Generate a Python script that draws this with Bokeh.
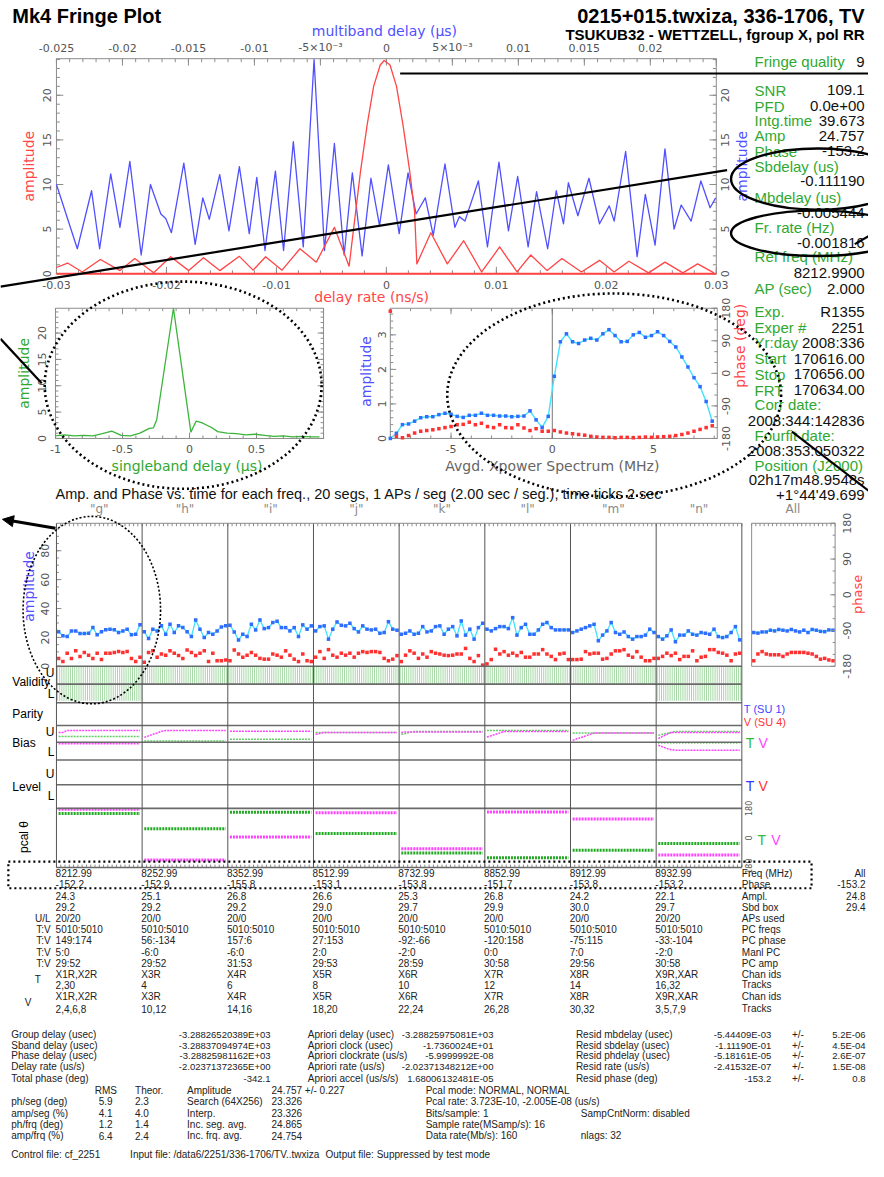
import numpy as np
from bokeh.plotting import figure
from bokeh.models import Range1d, Arrow, NormalHead
from bokeh.core.properties import value
from bokeh.embed import file_html
from bokeh.resources import INLINE

# ---------------------------------------------------------------- data
# multiband delay function (blue, top axis, microseconds)
mbd_delay = [-0.0250, -0.02342, -0.02234, -0.02173, -0.02089, -0.02019, -0.01944, -0.01858, -0.01788, -0.01709,
             -0.01672, -0.01629, -0.01535, -0.01449, -0.01391, -0.01342, -0.01263, -0.01193, -0.01114, -0.01039,
             -0.00982, -0.00920, -0.00841, -0.00779, -0.00705, -0.00630, -0.00548, -0.00469, -0.00394, -0.00320,
             -0.00258, -0.00184, -0.00117, -0.00052, 0.00015, 0.00097, 0.00164, 0.00225, 0.00295, 0.00355,
             0.00444, 0.00519, 0.00553, 0.00595, 0.00697, 0.00766, 0.00853, 0.00925, 0.00995, 0.01074,
             0.01138, 0.01222, 0.01287, 0.01342, 0.01379, 0.01451, 0.01535, 0.01615, 0.01689, 0.01726,
             0.01813, 0.01900, 0.01962, 0.02036, 0.02111, 0.02180, 0.02234, 0.02309, 0.02383, 0.02453,
             0.02495]
mbd_amp = [10.0, 2.8, 9.3, 2.8, 11.2, 5.2, 12.6, 2.1, 10.0, 6.7,
           6.2, 4.6, 12.4, 3.3, 8.5, 6.1, 11.1, 4.8, 12.0, 4.5,
           10.8, 2.6, 11.5, 2.6, 14.8, 3.0, 24.0, 2.6, 14.6, 2.1,
           11.3, 2.0, 10.7, 5.4, 12.2, 4.5, 11.3, 6.7, 8.5, 4.3,
           12.3, 5.2, 6.4, 5.9, 10.4, 3.0, 12.5, 4.8, 10.9, 3.0,
           9.2, 2.8, 9.3, 5.6, 10.2, 6.5, 10.7, 5.6, 7.6, 5.9,
           13.7, 1.9, 8.9, 3.2, 14.0, 5.0, 7.7, 5.9, 10.4, 7.4,
           8.5]
# delay-rate function (red, bottom axis, ns/s)
rate_delay = [-0.0300, -0.02899, -0.02765, -0.02601, -0.02422, -0.02288, -0.02116, -0.01962, -0.01797, -0.01663,
              -0.01515, -0.01337, -0.01212, -0.01098, -0.00949, -0.00786, -0.00637, -0.00473, -0.00339, -0.00279,
              -0.00235, -0.00176, -0.00116, -0.00056, -0.00020, 0.00033, 0.00092, 0.00152, 0.00212, 0.00256,
              0.00277, 0.00404, 0.00554, 0.00703, 0.00866, 0.01030, 0.01188, 0.01313, 0.01462, 0.01596,
              0.01774, 0.01938, 0.02071, 0.02205, 0.02384, 0.02533, 0.02696, 0.02830, 0.02979]
rate_amp = [0.7, 1.2, 0.2, 1.6, 0.35, 1.7, 0.1, 1.9, 0.35, 1.8,
            0.35, 1.95, 0.4, 1.9, 0.4, 2.8, 1.3, 5.2, 0.85, 7.0,
            11.5, 16.6, 21.0, 23.4, 23.9, 23.4, 21.0, 16.6, 11.5, 7.0,
            1.1, 4.6, 1.1, 3.7, 0.2, 3.0, 0.2, 2.1, 0.35, 1.7,
            0.2, 1.5, 0.2, 1.4, 0.1, 1.3, 0.1, 1.1, 0.1]
# singleband delay function
sbd_delay = [-1.0, -0.93, -0.86, -0.79, -0.72, -0.65, -0.58, -0.51, -0.44, -0.37, -0.30, -0.27, -0.245,
             -0.12, 0.01, 0.05, 0.09, 0.13, 0.17, 0.21, 0.28, 0.35, 0.42, 0.49, 0.56, 0.63, 0.70, 0.77,
             0.84, 0.91, 0.97]
sbd_amp = [0.5, 0.7, 0.5, 0.6, 0.5, 0.9, 1.4, 0.6, 0.5, 1.0, 1.9, 2.0, 3.5,
           24.7, 1.2, 3.3, 3.0, 2.5, 2.0, 1.3, 1.0, 0.9, 0.7, 0.8, 0.6, 0.4, 0.5, 0.3,
           0.4, 0.3, 0.3]
# averaged cross-power spectrum (54 spectral points)
xp_freq = [round(float(v), 2) for v in np.linspace(-8.0, 7.9, 54)]
xp_amp = [0.0, 0.15, 0.40, 0.42, 0.50, 0.60, 0.63, 0.63, 0.69, 0.73, 0.70, 0.64, 0.61, 0.67,
          0.67, 0.73, 0.67, 0.67, 0.65, 0.65, 0.63, 0.64, 0.65, 0.80, 0.54, 0.32, 0.64,
          1.80, 2.80, 3.03, 2.80, 2.75, 2.85, 2.90, 2.85, 3.03, 3.15, 2.98, 2.80, 2.81, 3.00,
          3.07, 2.93, 2.98, 3.09, 2.98, 2.81, 2.65, 2.36, 2.07, 1.76, 1.50, 1.07, 0.50]
xp_phase = [172, -174, -178, -172, -165, -160, -158, -156, -153, -150, -147, -142, -141, -135,
            -142, -138, -147, -150, -142, -150, -151, -142, -151, -158, -153, -160, -160,
            -158, -162, -165, -167, -169, -171, -174, -176, -177, -177, -178, -177, -177, -178,
            -177, -176, -177, -176, -175, -174, -172, -169, -165, -160, -155, -150, -145]

chan_names = ["g", "h", "i", "j", "k", "l", "m", "n"]
seg_amp = [
    [23.9, 21.1, 20.6, 24.5, 24.5, 22.7, 22.7, 22.9, 26.8, 21.8, 23.9, 25.3, 25.7, 25.3, 23.4, 24.5, 25.7, 21.8, 22.2, 28.7],
    [23.9, 19.3, 25.7, 24.5, 28.0, 22.2, 29.1, 23.4, 28.0, 26.8, 23.9, 20.6, 32.1, 25.7, 19.9, 23.4, 22.2, 24.5, 27.3, 28.0],
    [28.4, 23.8, 18.3, 22.2, 20.6, 29.1, 25.2, 32.1, 26.1, 26.8, 30.3, 31.2, 26.8, 26.8, 24.5, 26.8, 20.6, 28.7, 25.7, 28.0],
    [24.5, 27.5, 28.0, 18.8, 25.7, 30.7, 28.4, 28.0, 29.8, 26.1, 23.8, 28.0, 25.7, 25.2, 25.7, 22.9, 23.4, 30.9, 25.7, 25.0],
    [22.2, 22.9, 24.5, 22.2, 22.9, 27.5, 23.8, 24.5, 27.5, 28.0, 22.2, 25.7, 27.5, 21.1, 31.4, 21.6, 25.7, 18.8, 26.8, 29.8],
    [25.7, 24.5, 26.1, 27.5, 27.5, 26.1, 33.7, 21.6, 26.8, 29.1, 22.2, 22.2, 25.2, 29.1, 30.3, 26.8, 25.2, 25.2, 25.2, 25.2],
    [23.4, 24.5, 25.7, 26.8, 28.0, 29.1, 17.7, 21.6, 24.5, 30.3, 23.4, 22.2, 23.8, 20.6, 18.8, 20.6, 20.6, 21.6, 25.7, 23.4],
    [20.6, 18.8, 21.1, 25.2, 17.0, 21.6, 21.6, 24.5, 22.2, 21.6, 23.4, 22.9, 22.2, 25.7, 20.6, 19.9, 20.6, 23.4, 27.5, 18.3],
]
seg_phase = [
    [-160, -168, -147, -160, -141, -155, -145, -152, -160, -147, -163, -147, -147, -145, -143, -145, -143, -160, -168, -157],
    [-170, -145, -141, -157, -149, -152, -141, -147, -153, -160, -139, -145, -153, -147, -141, -168, -147, -166, -166, -164],
    [-166, -139, -149, -157, -152, -145, -152, -160, -162, -162, -149, -152, -157, -141, -152, -162, -168, -149, -166, -168],
    [-157, -143, -160, -138, -152, -157, -147, -152, -147, -157, -147, -143, -145, -143, -143, -145, -160, -166, -162, -153],
    [-168, -152, -141, -147, -160, -149, -157, -143, -147, -149, -152, -153, -152, -149, -149, -135, -160, -168, -153, -177],
    [-174, -163, -137, -149, -143, -152, -147, -153, -145, -157, -157, -149, -149, -138, -149, -155, -163, -149, -147, -163],
    [-163, -163, -162, -143, -149, -147, -147, -162, -160, -149, -141, -141, -138, -152, -157, -143, -157, -166, -166, -160],
    [-160, -155, -147, -153, -147, -163, -155, -155, -141, -166, -157, -155, -138, -138, -145, -147, -152, -166, -149, -147],
]
all_amp = [23.4, 23.0, 23.8, 23.8, 25.0, 24.5, 25.5, 25.0, 24.5, 25.5, 24.5, 23.8, 25.0, 23.4, 25.5, 25.0, 24.2, 24.0, 25.2, 25.0]
all_phase = [-166, -149, -143, -149, -151, -151, -151, -155, -149, -145, -145, -145, -145, -147, -149, -155, -162, -160, -164, -166]

aps_U = [20, 20, 20, 20, 20, 20, 20, 20]
aps_L = [20, 0, 0, 0, 0, 0, 0, 20]
# sampler bias tracks (0..1 = lower sideband band, 1..2 = upper sideband band)
bias_T_U = [[1.37] * 20, [1.10] * 20, [1.20] * 20, [1.60] * 20,
            [1.49, 1.54, 1.60] + [1.66] * 17, [1.71] * 20, [1.56] * 20,
            [1.43, 1.49, 1.54, 1.60] + [1.66] * 16]
bias_V_U = [[1.60, 1.60] + [1.71] * 18, [1.31, 1.40, 1.49, 1.57, 1.66] + [1.71] * 15, [1.67] * 20,
            [1.49, 1.54] + [1.60] * 18, [1.60] + [1.63] * 19, [1.33, 1.41, 1.49, 1.57] + [1.66] * 16,
            [1.14, 1.23, 1.31, 1.39, 1.48] + [1.56] * 15, [1.24, 1.37, 1.49] + [1.60] * 17]
bias_T_L = {7: [0.97] * 20}
bias_V_L = {0: [0.95] * 20, 7: [0.86, 0.76, 0.67, 0.60] + [0.57] * 16}

pc_T = [149, 56, 157, 27, -92, -120, -75, -33]
pc_V = [174, -134, 6, 153, -66, 158, 115, -104]

freq_mhz = ["8212.99", "8252.99", "8352.99", "8512.99", "8732.99", "8852.99", "8912.99", "8932.99"]
ch_phase = ["-152.2", "-152.9", "-155.8", "-153.1", "-153.8", "-151.7", "-153.8", "-153.2"]
ch_ampl = ["24.3", "25.1", "26.8", "26.6", "25.3", "26.8", "24.2", "22.1"]
ch_sbdbox = ["29.2", "29.2", "29.2", "29.0", "29.7", "29.9", "30.0", "29.7"]
pc_freqs = ["5010:5010"] * 8
manl_pc = ["5:0", "-6:0", "-6:0", "2:0", "-2:0", "0:0", "7:0", "-2:0"]
pc_amp = ["29:52", "29:52", "31:53", "29:53", "28:59", "30:58", "29:56", "30:58"]
chan_ids = ["X1R,X2R", "X3R", "X4R", "X5R", "X6R", "X7R", "X8R", "X9R,XAR"]
tracks_T = ["2,30", "4", "6", "8", "10", "12", "14", "16,32"]
tracks_V = ["2,4,6,8", "10,12", "14,16", "18,20", "22,24", "26,28", "30,32", "3,5,7,9"]
all_col = ["All", "-153.2", "24.8", "29.4"]

rp_labels = ["Fringe quality", "SNR", "PFD", "Intg.time", "Amp", "Phase", "Sbdelay (us)", "", "Mbdelay (us)", "",
             "Fr. rate (Hz)", "", "Ref freq (MHz)", "", "AP (sec)", "Exp.", "Exper #", "Yr:day", "Start", "Stop",
             "FRT", "Corr date:", "", "Fourfit date:", "", "Position (J2000)", "", ""]
rp_values = ["9", "109.1", "0.0e+00", "39.673", "24.757", "-153.2", "", "-0.111190", "", "-0.005444",
             "", "-0.001816", "", "8212.9900", "2.000", "R1355", "2251", "2008:336", "170616.00", "170656.00",
             "170634.00", "", "2008:344:142836", "", "2008:353:050322", "", "02h17m48.9548s", "+1\u00b044'49.699"]

sum_lab1 = ["Group delay (usec)", "Sband delay (usec)", "Phase delay (usec)", "Delay rate (us/s)", "Total phase (deg)"]
sum_val1 = ["-3.28826520389E+03", "-3.28837094974E+03", "-3.28825981162E+03", "-2.02371372365E+00", "-342.1"]
sum_lab2 = ["Apriori delay (usec)", "Apriori clock (usec)", "Apriori clockrate (us/s)", "Apriori rate (us/s)", "Apriori accel (us/s/s)"]
sum_val2 = ["-3.28825975081E+03", "-1.7360024E+01", "-5.9999992E-08", "-2.02371348212E+00", "1.68006132481E-05"]
sum_lab3 = ["Resid mbdelay (usec)", "Resid sbdelay (usec)", "Resid phdelay (usec)", "Resid rate (us/s)", "Resid phase (deg)"]
sum_val3 = ["-5.44409E-03", "-1.11190E-01", "-5.18161E-05", "-2.41532E-07", "-153.2"]
sum_err3 = ["5.2E-06", "4.5E-04", "2.6E-07", "1.5E-08", "0.8"]

rms_lab = ["ph/seg (deg)", "amp/seg (%)", "ph/frq (deg)", "amp/frq (%)"]
rms_val = ["5.9", "4.1", "1.2", "6.4"]
theor_val = ["2.3", "4.0", "1.4", "2.4"]
amp_lab = ["Search (64X256)", "Interp.", "Inc. seg. avg.", "Inc. frq. avg."]
amp_val = ["23.326", "23.326", "24.865", "24.754"]
misc_lab = ["Pcal rate: 3.723E-10,  -2.005E-08  (us/s)", "Bits/sample: 1", "Sample rate(MSamp/s): 16", "Data rate(Mb/s): 160"]
misc_lab2 = ["", "SampCntNorm: disabled", "", "nlags: 32"]

# ---------------------------------------------------------------- page
RW, RH = 884, 1177
SANS = "Liberation Sans"
DJ = "DejaVu Sans"
BLUE = "#5050ff"
RED = "#ff4545"
GREEN = "#30a830"
CYAN = "#3fe3ff"
PBLUE = "#2f6dff"
PRED = "#ff3030"
MAG = "#ff44ff"
FRAME = "#8c8c8c"
TICK = "#8c8c8c"
TTXT = "#555555"
RULE = "#6a6a6a"

p = figure(width=868, height=1161, x_range=Range1d(0, RW), y_range=Range1d(RH, 0),
           x_axis_type=None, y_axis_type=None, toolbar_location=None, output_backend="svg",
           min_border=0, outline_line_color=None)
p.background_fill_color = "white"
p.border_fill_color = "white"

XR, YR = {}, {}


def xreg(name, a, b, L, R):
    s = (b - a) / (R - L)
    XR[name] = Range1d(a - L * s, a + (RW - L) * s)


def yreg(name, a, b, T, B):
    s = (b - a) / (B - T)
    YR[name] = Range1d(a - (RH - B) * s, b + T * s)


xreg("mbd", -0.025, 0.025, 57, 729)
xreg("rate", -0.03, 0.03, 57, 729)
yreg("top", 0, 24.1, 59, 277)
xreg("sbd", -1, 1, 56, 329)
yreg("sbd", 0, 24.7, 312, 444)
xreg("xp", -8, 8.15, 397, 730)
yreg("xpa", 0, 3.77, 312, 444)
yreg("xpp", -180, 180, 312, 444)
xreg("ch", 0, 160, 57, 755)
xreg("all", 0, 20, 765, 850)
yreg("camp", 0, 99, 530, 675)
yreg("cph", -180, 180, 530, 675)
yreg("bias", 0, 2, 735, 770)
yreg("pcal", -180, 180, 819, 879)
p.extra_x_ranges = XR
p.extra_y_ranges = YR


def L(v):
    return [float(a) for a in v]


def put(x, y, s, size=12, color="black", align="left", base="middle", font=SANS, bold=False,
        angle=0.0, xn="default", yn="default"):
    xs = list(x) if isinstance(x, (list, tuple)) else None
    ys = list(y) if isinstance(y, (list, tuple)) else None
    ss = list(s) if isinstance(s, (list, tuple)) else None
    lens = [len(v) for v in (xs, ys, ss) if v is not None]
    n = max(lens) if lens else 1
    xs = xs if xs is not None else [x] * n
    ys = ys if ys is not None else [y] * n
    ss = ss if ss is not None else [s] * n
    p.text(x=xs, y=ys, text=ss, x_range_name=xn, y_range_name=yn,
           text_font=value(font), text_font_size=value(f"{size}px"), text_color=color,
           text_align=align, text_baseline=base, angle=angle,
           text_font_style="bold" if bold else "normal")


def hticks(xn, vals, ypix, ln, color=TICK, w=1):
    v = L(vals)
    p.segment(x0=v, y0=[ypix] * len(v), x1=v, y1=[ypix + ln] * len(v), x_range_name=xn,
              line_color=color, line_width=w)


def vticks(yn, vals, xpix, ln, color=TICK, w=1):
    v = L(vals)
    p.segment(x0=[xpix] * len(v), y0=v, x1=[xpix + ln] * len(v), y1=v, y_range_name=yn,
              line_color=color, line_width=w)


ROT = np.pi / 2

# ---------------------------------------------------------------- header
put(12, 16, "Mk4 Fringe Plot", size=20, bold=True)
put(880, 16, "0215+015.twxiza, 336-1706, TV", size=20, bold=True, align="right")
put(880, 34, "TSUKUB32 - WETTZELL, fgroup X, pol RR", size=15, bold=True, align="right")

# ---------------------------------------------------------------- top plot (mbd / delay rate)
p.quad(left=[-0.03], right=[0.03], bottom=[0], top=[24.1], x_range_name="rate", y_range_name="top",
       fill_color=None, line_color=FRAME, line_width=1)
hticks("mbd", np.arange(-0.025, 0.02501, 0.005), 59, 7)
hticks("mbd", np.arange(-0.025, 0.02501, 0.001), 59, 3.5)
hticks("rate", np.arange(-0.03, 0.03001, 0.01), 277, -7)
hticks("rate", np.arange(-0.03, 0.03001, 0.002), 277, -3.5)
vticks("top", [0, 5, 10, 15, 20], 57, 7)
vticks("top", range(0, 25), 57, 3.5)
vticks("top", [0, 5, 10, 15, 20], 729, -7)
vticks("top", range(0, 25), 729, -3.5)
p.line(mbd_delay, mbd_amp, x_range_name="mbd", y_range_name="top", line_color=BLUE, line_width=1.3,
       line_join="round")
p.line(rate_delay, rate_amp, x_range_name="rate", y_range_name="top", line_color=RED, line_width=1.3,
       line_join="round")
p.segment(x0=[-0.03], y0=[0], x1=[0.03], y1=[0], x_range_name="rate", y_range_name="top",
          line_color=RED, line_width=2)

mbd_ticks = [-0.025, -0.02, -0.015, -0.01, -0.005, 0, 0.005, 0.01, 0.015, 0.02]
mbd_tlab = ["-0.025", "-0.02", "-0.015", "-0.01", "-5\u00d710\u207b\u00b3", "0", "5\u00d710\u207b\u00b3", "0.01", "0.015", "0.02"]
put(mbd_ticks, 48, mbd_tlab, size=11, font=DJ, color=TTXT, align="center", xn="mbd")
rate_ticks = [-0.03, -0.02, -0.01, 0, 0.01, 0.02, 0.03]
put(rate_ticks, 288, ["-0.03", "-0.02", "-0.01", "0", "0.01", "0.02", "0.03"], size=11, font=DJ,
    color=TTXT, align="center", xn="rate")
amp_t = [0, 5, 10, 15, 20]
put(47, amp_t, [str(v) for v in amp_t], size=11, font=DJ, color=TTXT, align="center", angle=ROT, yn="top")
put(738, amp_t, [str(v) for v in amp_t], size=11, font=DJ, color=TTXT, align="center", angle=ROT, yn="top")
put(391, 31, "multiband delay (\u00b5s)", size=14, font=DJ, color=BLUE, align="center")
put(378, 301, "delay rate (ns/s)", size=14, font=DJ, color=RED, align="center")
put(29, 168, "amplitude", size=14, font=DJ, color=RED, align="center", angle=ROT)
put(755, 168, "amplitude", size=14, font=DJ, color=BLUE, align="center", angle=ROT)

# ---------------------------------------------------------------- singleband delay panel
p.quad(left=[-1], right=[1], bottom=[0], top=[24.7], x_range_name="sbd", y_range_name="sbd",
       fill_color=None, line_color=FRAME)
hticks("sbd", [-1, -0.5, 0, 0.5, 1], 444, -6)
hticks("sbd", np.arange(-1, 1.001, 0.1), 444, -3)
hticks("sbd", [-1, -0.5, 0, 0.5, 1], 312, 6)
hticks("sbd", np.arange(-1, 1.001, 0.1), 312, 3)
vticks("sbd", [0, 5, 10, 15, 20], 56, 6)
vticks("sbd", range(0, 25), 56, 3)
vticks("sbd", [0, 5, 10, 15, 20], 329, -6)
vticks("sbd", range(0, 25), 329, -3)
p.line(sbd_delay, sbd_amp, x_range_name="sbd", y_range_name="sbd", line_color="#3cb43c", line_width=1.3)
put([-1, -0.5, 0, 0.5], 455, ["-1", "-0.5", "0", "0.5"], size=11, font=DJ, color=TTXT, align="center", xn="sbd")
put(42, amp_t, [str(v) for v in amp_t], size=11, font=DJ, color=TTXT, align="center", angle=ROT, yn="sbd")
put(24, 378, "amplitude", size=14, font=DJ, color=GREEN, align="center", angle=ROT)
put(190, 472, "singleband delay (\u00b5s)", size=14, font=DJ, color=GREEN, align="center")

# ---------------------------------------------------------------- cross power spectrum panel
p.quad(left=[-8], right=[8.15], bottom=[0], top=[3.77], x_range_name="xp", y_range_name="xpa",
       fill_color=None, line_color=FRAME)
hticks("xp", [-5, 0, 5], 444, -6)
hticks("xp", range(-8, 9), 444, -3)
hticks("xp", [-5, 0, 5], 312, 6)
hticks("xp", range(-8, 9), 312, 3)
vticks("xpa", [0, 1, 2, 3], 397, 6)
vticks("xpa", np.arange(0, 3.7, 0.2), 397, 3)
vticks("xpp", [-180, -90, 0, 90, 180], 730, -6)
vticks("xpp", range(-180, 181, 30), 730, -3)
p.segment(x0=[0], y0=[0], x1=[0], y1=[3.77], x_range_name="xp", y_range_name="xpa", line_color="#777777")
p.line(xp_freq, xp_amp, x_range_name="xp", y_range_name="xpa", line_color=CYAN, line_width=1.4)
p.scatter(xp_freq, xp_amp, x_range_name="xp", y_range_name="xpa", marker="square", size=3.5,
          fill_color=PBLUE, line_color=None)
p.scatter(xp_freq, xp_phase, x_range_name="xp", y_range_name="xpp", marker="square", size=3.5,
          fill_color=PRED, line_color=None)
put([-5, 0, 5], 455, ["-5", "0", "5"], size=11, font=DJ, color=TTXT, align="center", xn="xp")
put(389, [0, 1, 2, 3], ["0", "1", "2", "3"], size=11, font=DJ, color=TTXT, align="center", angle=ROT, yn="xpa")
ph_t = [-180, -90, 0, 90, 180]
put(739, ph_t, [str(v) for v in ph_t], size=11, font=DJ, color=TTXT, align="center", angle=ROT, yn="xpp")
put(372, 376, "amplitude", size=14, font=DJ, color=BLUE, align="center", angle=ROT)
put(753, 350, "phase (deg)", size=14, font=DJ, color=RED, align="center", angle=ROT)
put(562, 472, "Avgd. Xpower Spectrum (MHz)", size=14, font=DJ, color="#666666", align="center")

# ---------------------------------------------------------------- right-hand summary column
rp_y = [62, 91, 107, 122, 137, 153, 168, 183, 200, 215, 230, 246, 260, 276, 292,
        315, 332, 347, 363, 379, 395, 410, 426, 441, 456, 471, 486, 501]
for lab, val, yy in zip(rp_labels, rp_values, rp_y):
    if lab:
        put(768, yy, lab, size=15, color=GREEN)
    if val:
        put(880, yy, val, size=15, color="#111111", align="right")

# ---------------------------------------------------------------- per-channel amplitude / phase
put(56, 500, "Amp. and Phase vs. time for each freq., 20 segs, 1 APs / seg (2.00 sec / seg.), time ticks 2 sec",
    size=14.5, color="#111111")
SEG = 20
ccent = [c * SEG + SEG / 2 for c in range(8)]
put(ccent, 516, ['"%s"' % n for n in chan_names], size=12, font=DJ, color="#888888", align="center", xn="ch")
put(807, 516, "All", size=12, font=DJ, color="#888888", align="center")

for c in range(8):
    xs = [c * SEG + s + 0.5 for s in range(SEG)]
    p.line(xs, seg_amp[c], x_range_name="ch", y_range_name="camp", line_color=CYAN, line_width=1.3)
    p.scatter(xs, seg_amp[c], x_range_name="ch", y_range_name="camp", marker="square", size=3.5,
              fill_color=PBLUE, line_color=None)
    p.scatter(xs, seg_phase[c], x_range_name="ch", y_range_name="cph", marker="square", size=3.5,
              fill_color=PRED, line_color=None)
xs_all = [s + 0.5 for s in range(SEG)]
p.line(xs_all, all_amp, x_range_name="all", y_range_name="camp", line_color=CYAN, line_width=1.3)
p.scatter(xs_all, all_amp, x_range_name="all", y_range_name="camp", marker="square", size=3.5,
          fill_color=PBLUE, line_color=None)
p.scatter(xs_all, all_phase, x_range_name="all", y_range_name="cph", marker="square", size=3.5,
          fill_color=PRED, line_color=None)

p.quad(left=[0], right=[20], bottom=[0], top=[99], x_range_name="all", y_range_name="camp",
       fill_color=None, line_color=FRAME)
hticks("ch", range(0, 161), 530, 3)
hticks("all", range(0, 21), 530, 3)
hticks("ch", range(0, 161), 879, -3)
vticks("camp", [0, 20, 40, 60, 80], 57, 5)
vticks("camp", range(0, 99, 5), 57, 2.5)
vticks("cph", ph_t, 850, -5)
vticks("cph", range(-180, 181, 30), 850, -2.5)
put(45, [0, 20, 40, 60, 80], ["0", "20", "40", "60", "80"], size=11, font=DJ, color=TTXT, align="center",
    angle=ROT, yn="camp")
put(862, ph_t, [str(v) for v in ph_t], size=11, font=DJ, color=TTXT, align="center", angle=ROT, yn="cph")
put(29, 594, "amplitude", size=14, font=DJ, color=BLUE, align="center", angle=ROT)
put(873, 602, "phase", size=13, font=DJ, color=RED, align="center", angle=ROT)

# validity hatching
for c in range(8):
    for nused, y0, y1 in ((aps_U[c], 675, 693), (aps_L[c], 693, 710)):
        if nused:
            vx = [c * SEG + (k + 0.5) / 2 for k in range(2 * nused)]
            p.segment(x0=vx, y0=[y0] * len(vx), x1=vx, y1=[y1] * len(vx), x_range_name="ch",
                      line_color="#a6d8a6", line_width=1)

# sampler bias
for c in range(8):
    xs = [c * SEG + s + 0.5 for s in range(SEG)]
    p.line(xs, bias_T_U[c], x_range_name="ch", y_range_name="bias", line_color="#66cc66", line_width=1.5,
           line_dash="2 1")
    p.line(xs, bias_V_U[c], x_range_name="ch", y_range_name="bias", line_color=MAG, line_width=1.5,
           line_dash="2 1")
    if c in bias_T_L:
        p.line(xs, bias_T_L[c], x_range_name="ch", y_range_name="bias", line_color="#66cc66",
               line_width=1.5, line_dash="1 2")
    if c in bias_V_L:
        p.line(xs, bias_V_L[c], x_range_name="ch", y_range_name="bias", line_color=MAG, line_width=1.5,
               line_dash="2 1")

# phase-cal phases
for c in range(8):
    xs = [c * SEG + s + 0.5 for s in range(SEG)]
    p.line(xs, [pc_V[c]] * SEG, x_range_name="ch", y_range_name="pcal", line_color=MAG, line_width=3,
           line_dash="2 1")
    p.line(xs, [pc_T[c]] * SEG, x_range_name="ch", y_range_name="pcal", line_color="#22a822", line_width=3,
           line_dash="2 1")

# rules of the channel grid
rows = [675, 693, 712, 735, 752, 770, 795, 819, 879]
p.segment(x0=[0] * len(rows), y0=rows, x1=[160] * len(rows), y1=rows, x_range_name="ch",
          line_color=RULE, line_width=1.6)
vx = [c * SEG for c in range(9)]
p.segment(x0=vx, y0=[530] * 9, x1=vx, y1=[879] * 9, x_range_name="ch", line_color="#555555", line_width=1)
p.segment(x0=[0], y0=[530], x1=[160], y1=[530], x_range_name="ch", line_color=FRAME, line_width=1)

put(12, 691, "Validity", size=12)
put(55, [682, 703], ["U", "L"], size=12, align="right")
put(12, 723, "Parity", size=12)
put(12, 753, "Bias", size=12)
put(55, [742, 762], ["U", "L"], size=12, align="right")
put(12, 797, "Level", size=12)
put(55, [784, 806], ["U", "L"], size=12, align="right")
put(24, 848, "pcal \u03b8", size=12, align="center", angle=ROT)
put(757, 718, "T (SU 1)", size=11, color="#4444ff")
put(757, 731, "V (SU 4)", size=11, color="#ff3333")
put(759, 753, "T", size=14, color="#33bb33")
put(772, 753, "V", size=14, color=MAG)
put(759, 796, "T", size=14, color="#3333ff")
put(772, 796, "V", size=14, color="#ff3333")
put(771, 851, "T", size=14, color="#33bb33")
put(785, 851, "V", size=14, color=MAG)
put(762, [180, 0, -180], ["180", "0", "-180"], size=8, font=DJ, color=TTXT,
    align="center", angle=ROT, yn="pcal")

# ---------------------------------------------------------------- per-channel table
TF = SANS
TS = 10
NS = 9.5
TC = "#222222"
pc_phase_s = ["%d:%d" % (a, b) for a, b in zip(pc_T, pc_V)]
aps_s = ["%d/%d" % (a, b) for a, b in zip(aps_U, aps_L)]
tab_rows = [freq_mhz, ch_phase, ch_ampl, ch_sbdbox, aps_s, pc_freqs, pc_phase_s, manl_pc, pc_amp,
            chan_ids, tracks_T, chan_ids, tracks_V]
tab_lab = ["Freq (MHz)", "Phase", "Ampl.", "Sbd box", "APs used", "PC freqs", "PC phase", "Manl PC", "PC amp",
           "Chan ids", "Tracks", "Chan ids", "Tracks"]
tab_y = [885, 896, 908, 919, 931, 942, 953, 965, 976, 987, 998, 1010, 1022]
cx = [c * SEG - 0.2 for c in range(8)]
for vals, lab, yy in zip(tab_rows, tab_lab, tab_y):
    put(cx, yy, vals, size=TS, font=TF, color=TC, xn="ch")
    put(755, yy, lab, size=TS, font=TF, color=TC)
put(881, tab_y[:4], all_col, size=TS, font=TF, color=TC, align="right")
put(51, [931, 942, 953, 965, 976], ["U/L", "T:V", "T:V", "T:V", "T:V"], size=TS, font=TF, color=TC, align="right")
put(38, 992, "T", size=TS, font=TF, color=TC, align="center")
put(28, 1016, "V", size=TS, font=TF, color=TC, align="center")

# ---------------------------------------------------------------- summary block
sy = [1048, 1059, 1070, 1081, 1093]
put(11, sy, sum_lab1, size=TS, font=TF, color=TC)
put(275, sy, sum_val1, size=NS, font=TF, color=TC, align="right")
put(313, sy, sum_lab2, size=TS, font=TF, color=TC)
put(502, sy, sum_val2, size=NS, font=TF, color=TC, align="right")
put(586, sy, sum_lab3, size=TS, font=TF, color=TC)
put(785, sy, sum_val3, size=NS, font=TF, color=TC, align="right")
put(806, sy, "+/-", size=TS, font=TF, color=TC)
put(881, sy, sum_err3, size=NS, font=TF, color=TC, align="right")

put(96, 1105, "RMS", size=TS, font=TF, color=TC)
put(137, 1105, "Theor.", size=TS, font=TF, color=TC)
put(190, 1105, "Amplitude", size=TS, font=TF, color=TC)
put(276, 1105, "24.757 +/- 0.227", size=TS, font=TF, color=TC)
put(433, 1105, "Pcal mode: NORMAL,  NORMAL", size=TS, font=TF, color=TC)
ry = [1116, 1128, 1139, 1151]
put(11, ry, rms_lab, size=TS, font=TF, color=TC)
put(100, ry, rms_val, size=TS, font=TF, color=TC)
put(137, ry, theor_val, size=TS, font=TF, color=TC)
put(190, ry, amp_lab, size=TS, font=TF, color=TC)
put(276, ry, amp_val, size=TS, font=TF, color=TC)
put(433, ry, misc_lab, size=TS, font=TF, color=TC)
put(591, ry, misc_lab2, size=TS, font=TF, color=TC)
put(11, 1170, "Control file: cf_2251", size=TS, font=TF, color=TC)
put(132, 1170, "Input file: /data6/2251/336-1706/TV..twxiza", size=TS, font=TF, color=TC)
put(331, 1170, "Output file: Suppressed by test mode", size=TS, font=TF, color=TC)

# ---------------------------------------------------------------- hand-drawn annotations
p.segment(x0=[407, 0, 0, 806, 870], y0=[74, 290, 343, 437, 247], x1=[884, 740, 42, 884, 884],
          y1=[74, 172, 388, 497, 239], line_color="black", line_width=2.2)
p.ellipse(x=[832, 832], y=[181, 236], width=[176, 176], height=[62, 46], fill_color=None,
          line_color="black", line_width=2.4)
p.ellipse(x=[186, 625], y=[390, 400], width=[282, 340], height=[210, 206], fill_color=None,
          line_color="black", line_width=2.6, line_dash="2 3")
p.ellipse(x=[93], y=[618], width=[140], height=[190], fill_color=None,
          line_color="black", line_width=1.6, line_dash="2 2")
p.quad(left=[8], right=[826], top=[873], bottom=[900], fill_color=None, line_color="black",
       line_width=2.2, line_dash="2 3")
p.add_layout(Arrow(end=NormalHead(size=11, fill_color="black", line_color="black"),
                   x_start=56, y_start=535, x_end=2, y_end=526, line_width=3, line_color="black"))

html = file_html(p, INLINE, title="Mk4 Fringe Plot")
with open("out.html", "w", encoding="utf-8") as f:
    f.write(html)
